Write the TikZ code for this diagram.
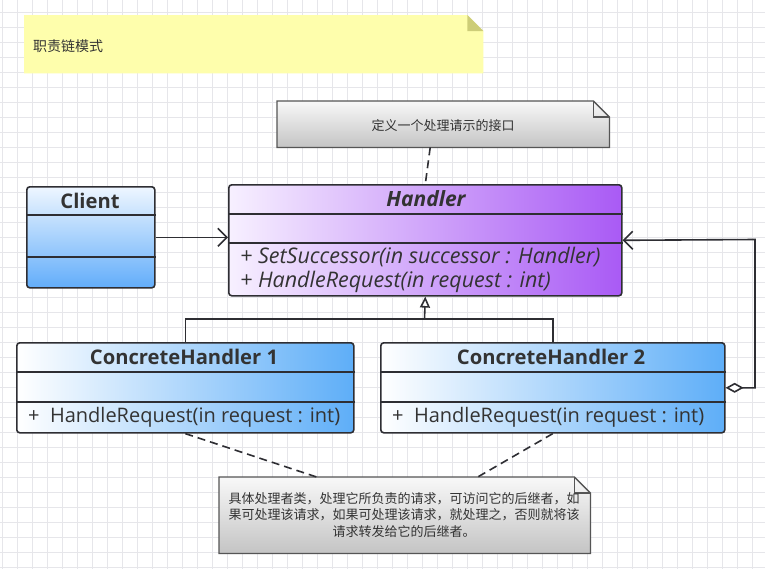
\documentclass[tikz,border=0pt]{standalone}
\usepackage{fontspec}
\setmainfont{Open Sans}
\newfontfamily\cjk{Noto Sans CJK SC}
\usetikzlibrary{arrows.meta}
\definecolor{gridc}{HTML}{E6E6EA}
\definecolor{ink}{HTML}{333333}
\definecolor{edge}{HTML}{2E2E33}
\definecolor{notey}{HTML}{FEFEAC}
\definecolor{foldy}{HTML}{CDCD78}
\definecolor{purpL}{HTML}{F7F0FF}
\definecolor{purpR}{HTML}{A95AF5}
\definecolor{blueR}{HTML}{5EAEF8}
\definecolor{cliT}{HTML}{EEF6FF}
\definecolor{cliB}{HTML}{62ADFA}
\definecolor{grayT}{HTML}{F8F8F8}
\definecolor{grayB}{HTML}{C4C4C4}
\definecolor{noteedge}{HTML}{555555}
\begin{document}
\begin{tikzpicture}[x=1pt,y=-1pt,
  box/.style={draw=edge, line width=1.6pt, rounded corners=3pt, anchor=north west, inner sep=0pt},
  sep/.style={draw=edge, line width=1.6pt},
  ttl/.style={font=\fontsize{20.2}{22}\selectfont\bfseries, text=ink, inner sep=0pt},
  mth/.style={font=\fontsize{20}{22}\selectfont, text=ink, anchor=west, inner sep=0pt},
  conn/.style={draw=edge, line width=1.6pt},
  notedash/.style={draw=edge, line width=1.6pt, dash pattern=on 8pt off 5pt},
  notebox/.style={anchor=north west, inner sep=0pt},
  notepaper/.style={draw=noteedge, line width=1.3pt, top color=grayT, bottom color=grayB},
  cjktext/.style={font=\cjk\fontsize{13}{16.5}\selectfont, text=ink, inner sep=0pt}
]
\useasboundingbox (0,0) rectangle (765,568);
\fill[white] (0,0) rectangle (765,568);
\begin{scope}[shift={(2.5,12.5)}]
\draw[gridc, line width=0.7pt, step=15pt] (-15,-15) grid (765,570);
\end{scope}

% yellow title note
\node[notebox, minimum width=459, minimum height=58] (title) at (24,15) {};
\fill[notey] (title.north west) -- ([xshift=-16pt]title.north east) -- ([yshift=-16pt]title.north east) -- (title.south east) -- (title.south west) -- cycle;
\fill[foldy] ([xshift=-16pt]title.north east) -- ([yshift=-16pt]title.north east) -- ([xshift=-16pt,yshift=-16pt]title.north east) -- cycle;
\node[cjktext, anchor=west, font=\cjk\fontsize{14}{16}\selectfont] (titletext) at (33,46) {职责链模式};

% top note
\node[notebox, minimum width=332, minimum height=46] (n1) at (277,101) {};
\path[notepaper] (n1.north west) -- ([xshift=-16pt]n1.north east) -- ([yshift=-16pt]n1.north east) -- (n1.south east) -- (n1.south west) -- cycle;
\draw[noteedge, line width=1.1pt] ([xshift=-16pt]n1.north east) -- ([xshift=-16pt,yshift=-16pt]n1.north east) -- ([yshift=-16pt]n1.north east);
\node[cjktext] (n1text) at ([yshift=-1pt]n1.center) {定义一个处理请示的接口};

% bottom note
\node[notebox, minimum width=371, minimum height=76] (n2) at (219,477) {};
\path[notepaper] (n2.north west) -- ([xshift=-16pt]n2.north east) -- ([yshift=-16pt]n2.north east) -- (n2.south east) -- (n2.south west) -- cycle;
\draw[noteedge, line width=1.1pt] ([xshift=-16pt]n2.north east) -- ([xshift=-16pt,yshift=-16pt]n2.north east) -- ([yshift=-16pt]n2.north east);
\node[cjktext, align=center] (n2text) at (404,515) {具体处理者类，处理它所负责的请求，可访问它的后继者，如\\果可处理该请求，如果可处理该请求，就处理之，否则就将该\\请求转发给它的后继者。};

% Client
\node[box, minimum width=128, minimum height=101, top color=cliT, bottom color=cliB] (client) at (26,186) {};
\draw[sep] ([yshift=-29pt]client.north west) -- ([yshift=-29pt]client.north east);
\draw[sep] ([yshift=-71pt]client.north west) -- ([yshift=-71pt]client.north east);
\node[ttl] (clientname) at (90,201) {Client};

% Handler
\node[box, minimum width=393, minimum height=111, left color=purpL, right color=purpR] (handler) at (228,184) {};
\draw[sep] ([yshift=-30pt]handler.north west) -- ([yshift=-30pt]handler.north east);
\draw[sep] ([yshift=-59pt]handler.north west) -- ([yshift=-59pt]handler.north east);
\node[ttl, font=\fontsize{21}{22}\selectfont\bfseries\itshape] (handlername) at (426,199) {Handler};
\node[mth, font=\fontsize{21.5}{24}\selectfont\itshape] (hm1) at (240,257) {+ SetSuccessor(in successor : Handler)};
\node[mth, font=\fontsize{21.5}{24}\selectfont\itshape] (hm2) at (240,282) {+ HandleRequest(in request : int)};

% ConcreteHandler 1
\node[box, minimum width=337, minimum height=90, left color=white, right color=blueR] (ch1) at (16,342) {};
\draw[sep] ([yshift=-30pt]ch1.north west) -- ([yshift=-30pt]ch1.north east);
\draw[sep] ([yshift=-60pt]ch1.north west) -- ([yshift=-60pt]ch1.north east);
\node[ttl] (ch1name) at (184,357) {ConcreteHandler 1};
\node[mth] (ch1m) at (28,417) {+ \ HandleRequest(in request : int)};

% ConcreteHandler 2
\node[box, minimum width=344, minimum height=90, left color=white, right color=blueR] (ch2) at (380,342) {};
\draw[sep] ([yshift=-30pt]ch2.north west) -- ([yshift=-30pt]ch2.north east);
\draw[sep] ([yshift=-60pt]ch2.north west) -- ([yshift=-60pt]ch2.north east);
\node[ttl] (ch2name) at (551,357) {ConcreteHandler 2};
\node[mth] (ch2m) at (392,417) {+ \ HandleRequest(in request : int)};

% association Client -> Handler
\draw[conn, -{Straight Barb[length=9pt,width=18pt,line width=1.6pt]}] (client.east) -- (client.east -| handler.west);

% generalization
\coordinate (join) at (424.5,319);
\draw[conn] (ch1.north) |- (join) -| (ch2.north);
\draw[conn, -{Triangle[open,length=11pt,width=10pt,fill=white]}] (join) -- (handler.south);

% aggregation (successor)
\coordinate (rturn) at (755,239.5);
\draw[conn, {Diamond[open,length=18pt,width=10pt,fill=white]}-{Straight Barb[length=9pt,width=18pt,line width=1.6pt]}] (ch2.east) -| (rturn) -- (handler.east);

% note connectors
\draw[notedash] ([xshift=-13pt]n1.south) -- (handler.north);
\draw[notedash] (ch1.south) -- ([xshift=-88pt]n2.north);
\draw[notedash] (ch2.south) -- ([xshift=73pt]n2.north);
\end{tikzpicture}
\end{document}
